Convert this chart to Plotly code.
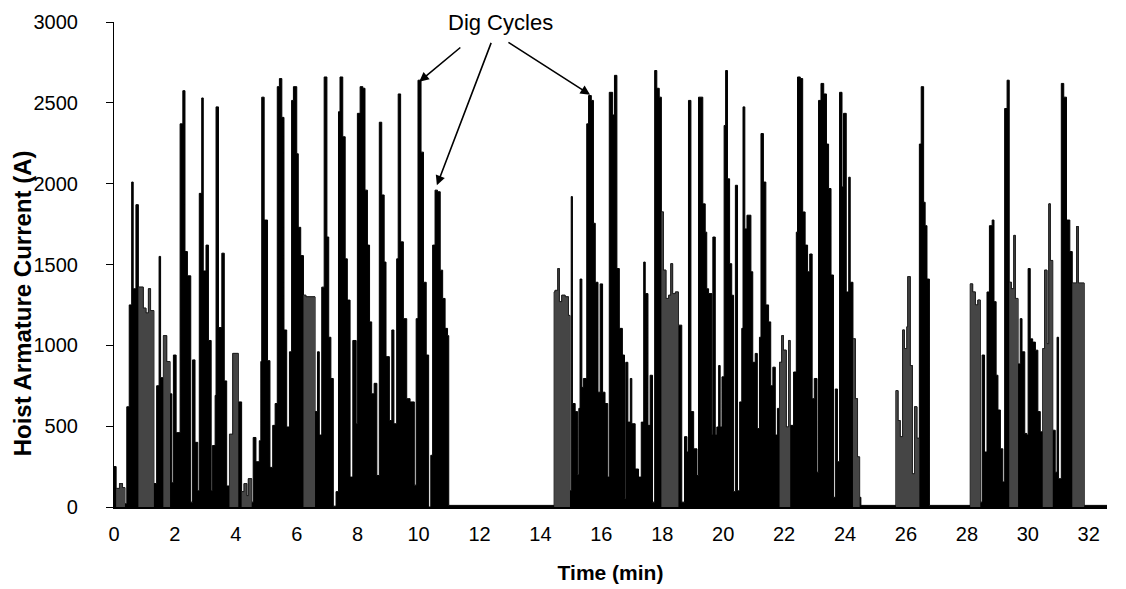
import plotly.graph_objects as go

# ---- data: hoist armature current envelope (step samples) ----
# block 1 : 0 - 11 min
block1_t = [0.00, 0.07, 0.18, 0.28, 0.36, 0.42, 0.50, 0.58, 0.63, 0.72, 0.80, 0.96, 1.05, 1.13, 1.20,
            1.31, 1.40, 1.48, 1.53, 1.62, 1.73, 1.84, 1.90, 1.95, 2.04, 2.17, 2.26, 2.33, 2.41, 2.52,
            2.58, 2.66, 2.75, 2.80, 2.88, 2.93, 3.02, 3.10, 3.19, 3.23, 3.32, 3.35, 3.43, 3.54, 3.62,
            3.70, 3.79, 3.90, 4.08, 4.19, 4.27, 4.36, 4.41, 4.52, 4.57, 4.66, 4.77, 4.82, 4.85, 4.93,
            5.04, 5.12, 5.21, 5.29, 5.36, 5.43, 5.51, 5.58, 5.67, 5.76, 5.83, 5.89, 6.00, 6.05, 6.13,
            6.22, 6.30, 6.60, 6.68, 6.74, 6.82, 6.90, 6.99, 7.05, 7.12, 7.20, 7.29, 7.37, 7.42, 7.51,
            7.59, 7.66, 7.75, 7.84, 7.95, 7.99, 8.08, 8.17, 8.24, 8.32, 8.39, 8.46, 8.54, 8.63, 8.71,
            8.79, 8.87, 8.93, 9.04, 9.12, 9.19, 9.28, 9.33, 9.41, 9.50, 9.61, 9.72, 9.86, 9.92, 9.98,
            10.08, 10.16, 10.25, 10.33, 10.40, 10.46, 10.54, 10.62, 10.71, 10.79, 10.87, 10.95, 10.99]
block1_a = [250, 115, 145, 120, 20, 620, 1250, 2010, 1350, 1870, 1360, 1230, 1200, 1350, 1215,
            145, 750, 1550, 800, 1060, 900, 700, 150, 940, 460, 2370, 2575, 1580, 1430, 30,
            910, 400, 100, 1940, 2530, 1460, 1620, 1030, 100, 380, 690, 2475, 1110, 1570, 780,
            130, 450, 950, 650, 95, 145, 70, 175, 30, 430, 280, 410, 900, 2535, 1775,
            905, 245, 505, 640, 2600, 2650, 2410, 1095, 495, 960, 2515, 2600, 2185, 1730, 1555,
            1310, 1300, 590, 960, 445, 1360, 2660, 1670, 1050, 795, 5, 95, 2445, 2660, 2290,
            1535, 1280, 185, 1030, 515, 2435, 2600, 2590, 1960, 1620, 1145, 700, 765, 195, 2380,
            1930, 1515, 930, 535, 1095, 515, 1535, 2555, 1640, 1165, 670, 650, 135, 1165, 2640,
            2195, 1390, 940, 0, 320, 1620, 1960, 1950, 1465, 1290, 1105, 1060, 10]

# block 2 : 14.5 - 24.5 min
block2_t = [14.45, 14.48, 14.57, 14.62, 14.70, 14.81, 14.92, 14.97, 15.01, 15.05, 15.14, 15.22, 15.26,
            15.30, 15.36, 15.41, 15.52, 15.58, 15.67, 15.74, 15.80, 15.89, 15.96, 16.04, 16.12, 16.21,
            16.26, 16.37, 16.43, 16.51, 16.59, 16.69, 16.76, 16.80, 16.87, 16.95, 17.00, 17.11, 17.22,
            17.31, 17.39, 17.44, 17.53, 17.60, 17.68, 17.75, 17.82, 17.90, 17.97, 18.04, 18.12, 18.21,
            18.28, 18.34, 18.43, 18.53, 18.64, 18.73, 18.81, 18.86, 18.94, 19.03, 19.14, 19.19, 19.33,
            19.41, 19.46, 19.52, 19.63, 19.66, 19.74, 19.79, 19.85, 19.90, 19.96, 20.03, 20.08, 20.14,
            20.21, 20.28, 20.34, 20.40, 20.47, 20.54, 20.61, 20.65, 20.71, 20.78, 20.91, 20.97, 21.05,
            21.12, 21.19, 21.24, 21.32, 21.40, 21.49, 21.56, 21.63, 21.71, 21.78, 21.85, 21.92, 21.98,
            22.07, 22.15, 22.20, 22.31, 22.40, 22.44, 22.53, 22.61, 22.69, 22.77, 22.84, 22.92, 22.99,
            23.08, 23.13, 23.21, 23.30, 23.39, 23.46, 23.54, 23.62, 23.68, 23.75, 23.82, 23.90, 23.95,
            24.04, 24.12, 24.17, 24.26, 24.34, 24.41, 24.48, 24.52]
block2_a = [1330, 1340, 1475, 1270, 1310, 1300, 1185, 100, 1920, 640, 590, 200, 610,
            1410, 740, 795, 2370, 2545, 2515, 1755, 1390, 710, 1380, 710, 640, 185,
            2565, 2425, 2670, 1475, 1105, 940, 50, 895, 525, 795, 515, 235, 185,
            525, 1515, 1320, 505, 815, 30, 2700, 2590, 2535, 1825, 1465, 1290, 1310,
            1505, 1320, 1330, 1125, 30, 435, 340, 2515, 590, 360, 195, 2535, 1875,
            1700, 1350, 1320, 445, 1670, 445, 495, 875, 495, 805, 2360, 2700, 2030,
            1505, 1310, 95, 1990, 100, 650, 1105, 2475, 1720, 1805, 1455, 895, 950,
            485, 1050, 2310, 2010, 1250, 1145, 750, 865, 445, 610, 895, 1060, 970,
            495, 1030, 505, 835, 1700, 2660, 2650, 1825, 1620, 1455, 1565, 670, 795,
            215, 2515, 2620, 2555, 2245, 1970, 1435, 60, 730, 280, 2565, 1980, 2435,
            1330, 2040, 1390, 1040, 670, 310, 60, 10]

# block 3 : 25.7 - 26.8 min
block3_t = [25.67, 25.74, 25.81, 25.89, 25.95, 26.03, 26.06, 26.14, 26.21, 26.28, 26.36, 26.44,
            26.50, 26.58, 26.63, 26.69, 26.77]
block3_a = [720, 535, 435, 1095, 980, 1115, 1425, 875, 205, 620, 425, 2245,
            2600, 1885, 1740, 1410, 10]

# block 4 : 28.1 - 31.9 min
block4_t = [28.11, 28.19, 28.28, 28.36, 28.44, 28.50, 28.58, 28.66, 28.74, 28.83, 28.89, 28.96,
            29.02, 29.10, 29.18, 29.24, 29.32, 29.39, 29.46, 29.54, 29.59, 29.68, 29.75, 29.81,
            29.90, 29.97, 30.01, 30.08, 30.16, 30.25, 30.33, 30.41, 30.49, 30.55, 30.63, 30.69,
            30.74, 30.82, 30.90, 30.96, 31.01, 31.10, 31.18, 31.27, 31.38, 31.46, 31.60, 31.66,
            31.85, 32.60]
block4_a = [1380, 1330, 1250, 1280, 30, 940, 340, 1330, 1740, 1775, 1270, 815,
            600, 360, 155, 2465, 2640, 1390, 1350, 1680, 1290, 885, 1165, 960,
            455, 445, 1475, 1040, 1020, 970, 590, 465, 980, 1465, 1010, 1875,
            1525, 475, 215, 1050, 175, 2620, 2535, 1775, 1580, 1385, 1735, 1385,
            10, 10]

# time spans (min) where the recorded trace looks lighter (grey speckle) in the picture
grey_start = [0.07, 0.80, 1.62, 3.79, 4.19, 6.22, 14.45, 17.97, 21.85, 24.26, 25.67, 28.11, 29.39, 30.49, 31.46]
grey_end   = [0.36, 1.31, 1.84, 4.08, 4.52, 6.60, 14.97, 18.53, 22.20, 24.48, 26.44, 28.44, 29.68, 30.82, 31.85]

x_ticks = list(range(0, 33, 2))
y_ticks = [0, 500, 1000, 1500, 2000, 2500, 3000]

# arrows: (head time, head current, tail time, tail current)
arrow_heads_t = [10.02, 10.60, 15.63]
arrow_heads_a = [2630, 1990, 2550]
arrow_tails_t = [11.42, 12.40, 12.90]
arrow_tails_a = [2850, 2880, 2880]

time_min = block1_t + block2_t + block3_t + block4_t
current_a = block1_a + block2_a + block3_a + block4_a

fig = go.Figure()
fig.add_trace(go.Scatter(
    x=time_min, y=current_a, mode="lines",
    line=dict(color="black", width=1, shape="hv"),
    fill="tozeroy", fillcolor="black", hoverinfo="skip"))

# slightly lighter overlays for the speckled parts of the trace
for a, b in zip(grey_start, grey_end):
    xs = [t for t in time_min if a <= t < b]
    ys = [v for t, v in zip(time_min, current_a) if a <= t < b]
    if not xs:
        continue
    xs = xs + [b]
    ys = ys + [ys[-1]]
    fig.add_trace(go.Scatter(
        x=xs, y=ys, mode="lines",
        line=dict(color="#222222", width=0.8, shape="hv"),
        fill="tozeroy", fillcolor="#454545", hoverinfo="skip"))

FONT = "Liberation Sans, Arial, sans-serif"

for ht, ha, tt, ta in zip(arrow_heads_t, arrow_heads_a, arrow_tails_t, arrow_tails_a):
    fig.add_annotation(x=ht, y=ha, ax=tt, ay=ta, xref="x", yref="y", axref="x", ayref="y",
                       showarrow=True, arrowhead=2, arrowsize=1.2, arrowwidth=1.6,
                       arrowcolor="black", text="")

fig.add_annotation(x=12.68, y=2995, xref="x", yref="y", text="Dig Cycles", showarrow=False,
                   font=dict(family=FONT, size=22, color="black"), xanchor="center", yanchor="middle")

# y-axis title (placed as rotated text so it can sit where the original has it)
fig.add_annotation(x=0, y=0.42, xref="paper", yref="paper", xshift=-92,
                   text="<b>Hoist Armature Current (A)</b>", textangle=-90, showarrow=False,
                   font=dict(family=FONT, size=24, color="black"), xanchor="center", yanchor="middle")

fig.update_layout(
    width=1126, height=589,
    margin=dict(l=114, r=19, t=22, b=82),
    plot_bgcolor="white", paper_bgcolor="white",
    showlegend=False,
    font=dict(family=FONT, size=20, color="black"),
)
fig.update_xaxes(
    range=[0, 32.6], tickvals=x_ticks, ticktext=[str(v) for v in x_ticks], automargin=False,
    showline=True, linecolor="black", linewidth=1.5, ticks="", showgrid=False, zeroline=False,
    tickfont=dict(family=FONT, size=20), ticklabelstandoff=8,
    title=dict(text="<b>Time (min)</b>", font=dict(family=FONT, size=21), standoff=22),
)
fig.update_yaxes(
    range=[0, 3000], tickvals=y_ticks, ticktext=[str(v) for v in y_ticks], automargin=False,
    showline=True, linecolor="black", linewidth=1.2, ticks="outside", ticklen=7, tickcolor="black",
    showgrid=False, zeroline=False, ticklabelstandoff=24,
    tickfont=dict(family=FONT, size=20),
)

fig.write_html("out.html")
